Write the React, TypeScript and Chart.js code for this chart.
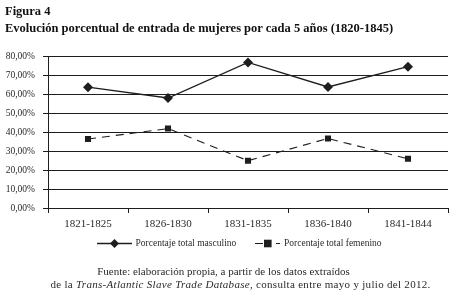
import React, { useEffect, useRef } from "react";
import { Chart, registerables } from "chart.js";

Chart.register(...registerables);

const categories = ["1821-1825", "1826-1830", "1831-1835", "1836-1840", "1841-1844"];
const masculino = [63.6, 57.9, 76.6, 63.7, 74.4];
const femenino = [36.3, 41.8, 24.9, 36.6, 25.9];
const yTicks = [0, 10, 20, 30, 40, 50, 60, 70, 80];
const seriesNames = ["Porcentaje total masculino", "Porcentaje total femenino"];

const SERIF = '"Liberation Serif", "DejaVu Serif", serif';
const INK = "#1e1e1e";

const legendPlugin = {
  id: "customLegend",
  afterDraw(chart: any) {
    const ctx = chart.ctx as CanvasRenderingContext2D;
    const y = 243.5;
    ctx.save();
    ctx.strokeStyle = INK;
    ctx.fillStyle = INK;
    // masculino entry
    ctx.lineWidth = 1.3;
    ctx.setLineDash([]);
    ctx.beginPath();
    ctx.moveTo(97, y);
    ctx.lineTo(132, y);
    ctx.stroke();
    ctx.beginPath();
    const dx = 114.5;
    const r = 4.5;
    ctx.moveTo(dx, y - r);
    ctx.lineTo(dx + r, y);
    ctx.lineTo(dx, y + r);
    ctx.lineTo(dx - r, y);
    ctx.closePath();
    ctx.fill();
    ctx.font = `9.5px ${SERIF}`;
    ctx.textBaseline = "middle";
    ctx.textAlign = "left";
    ctx.fillStyle = "#2a2a2a";
    ctx.fillText(seriesNames[0], 135.5, y);
    // femenino entry
    ctx.fillStyle = INK;
    ctx.lineWidth = 1.1;
    ctx.beginPath();
    ctx.moveTo(255, y);
    ctx.lineTo(263, y);
    ctx.moveTo(276, y);
    ctx.lineTo(280, y);
    ctx.stroke();
    ctx.fillRect(264, y - 3.8, 7.6, 7.6);
    ctx.fillStyle = "#2a2a2a";
    ctx.fillText(seriesNames[1], 284, y);
    ctx.restore();
  },
};

export default function App() {
  const ref = useRef<HTMLCanvasElement | null>(null);

  useEffect(() => {
    if (!ref.current) return;
    const chart = new Chart(ref.current, {
      type: "line",
      data: {
        labels: categories,
        datasets: [
          {
            label: seriesNames[0],
            data: masculino,
            borderColor: INK,
            backgroundColor: INK,
            borderWidth: 1.3,
            pointStyle: "rectRot",
            pointRadius: 5,
            pointBorderWidth: 0,
            tension: 0,
          },
          {
            label: seriesNames[1],
            data: femenino,
            borderColor: INK,
            backgroundColor: INK,
            borderWidth: 1.1,
            borderDash: [8, 6],
            pointStyle: "rect",
            pointRadius: 4.3,
            pointBorderWidth: 0,
            tension: 0,
          },
        ],
      },
      options: {
        responsive: false,
        animation: false,
        devicePixelRatio: 1,
        layout: { padding: { top: 56, left: 0, right: 9, bottom: 62 } },
        plugins: {
          legend: { display: false },
          tooltip: { enabled: false },
          title: { display: false },
        },
        scales: {
          x: {
            offset: true,
            grid: {
              offset: true,
              drawOnChartArea: false,
              drawTicks: true,
              tickLength: 5,
              color: INK,
              lineWidth: 1,
            },
            border: { display: true, color: INK, width: 1 },
            ticks: {
              color: "#2a2a2a",
              font: { family: SERIF, size: 11 },
              padding: 5,
              maxRotation: 0,
            },
            afterFit: (s: any) => {
              s.height = 30;
            },
          },
          y: {
            min: 0,
            max: 80,
            afterBuildTicks: (s: any) => {
              s.ticks = yTicks.map((v) => ({ value: v }));
            },
            grid: {
              color: INK,
              lineWidth: 1,
              drawTicks: true,
              tickLength: 5,
            },
            border: { display: true, color: INK, width: 1 },
            ticks: {
              color: "#2a2a2a",
              font: { family: SERIF, size: 9.5 },
              padding: 8,
              callback: (v: any) => Number(v).toFixed(2).replace(".", ",") + "%",
            },
            afterFit: (s: any) => {
              s.width = 48;
            },
          },
        },
      },
      plugins: [legendPlugin],
    });
    return () => chart.destroy();
  }, []);

  return (
    <div
      style={{
        position: "fixed",
        left: 0,
        top: 0,
        width: 457,
        height: 300,
        background: "#fff",
        overflow: "hidden",
        fontFamily: SERIF,
        color: "#111",
      }}
    >
      <canvas ref={ref} width={457} height={300} style={{ position: "absolute", left: 0, top: 0 }} />
      <div style={{ position: "absolute", left: 5, top: 4, fontSize: 12.5, fontWeight: "bold", lineHeight: "14px" }}>
        Figura 4
      </div>
      <div style={{ position: "absolute", left: 5, top: 21, fontSize: 12.5, fontWeight: "bold", lineHeight: "14px", whiteSpace: "nowrap" }}>
        Evolución porcentual de entrada de mujeres por cada 5 años (1820-1845)
      </div>
      <div
        style={{
          position: "absolute",
          left: 0,
          width: 457,
          top: 265,
          fontSize: 11,
          lineHeight: "13px",
          textAlign: "center",
          color: "#2a2a2a",
          whiteSpace: "nowrap",
        }}
      >
        <div style={{ paddingRight: 10 }}>Fuente: elaboración propia, a partir de los datos extraídos</div>
        <div style={{ paddingLeft: 24, letterSpacing: "0.3px" }}>
          de la <i>Trans-Atlantic Slave Trade Database</i>, consulta entre mayo y julio del 2012.
        </div>
      </div>
    </div>
  );
}
